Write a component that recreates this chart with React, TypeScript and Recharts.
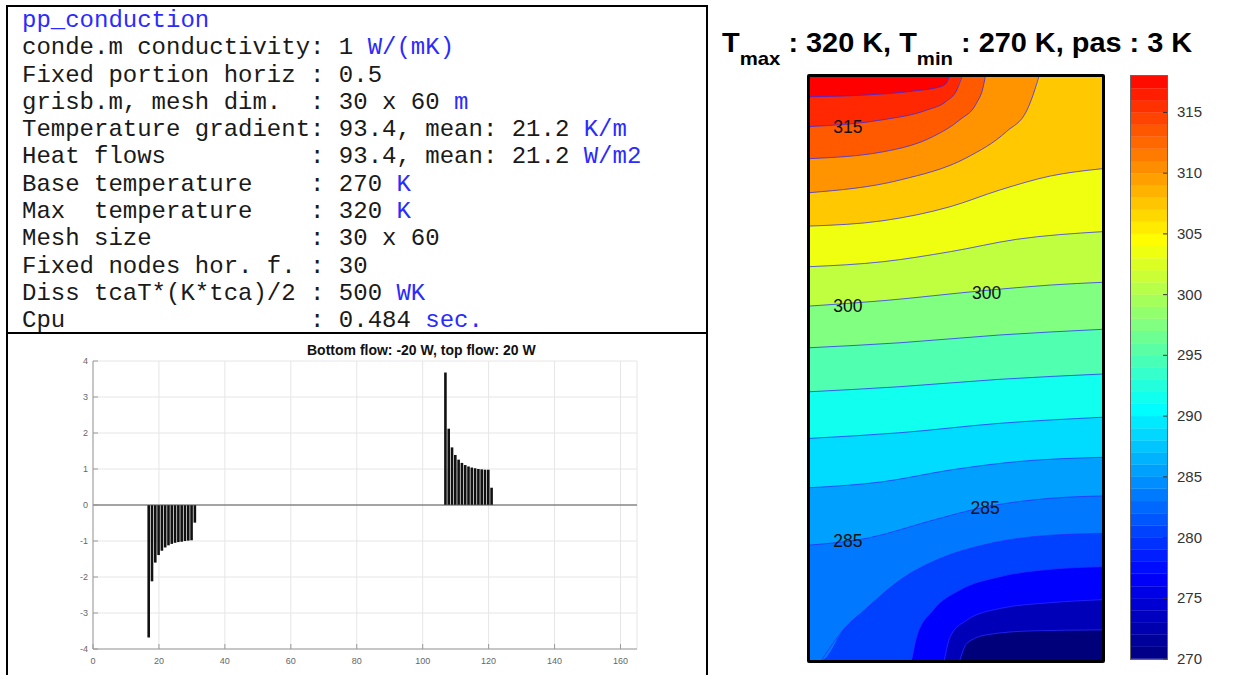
import React from "react";
import {
  BarChart,
  Bar,
  Cell,
  XAxis,
  YAxis,
  CartesianGrid,
  ReferenceLine,
  ComposedChart,
  Area,
  Line,
  Scatter,
} from "recharts";

// ---- text panel ----
const infoLines: [string, string][] = [
  ["", "pp_conduction"],
  ["conde.m conductivity: 1 ", "W/(mK)"],
  ["Fixed portion horiz : 0.5", ""],
  ["grisb.m, mesh dim.  : 30 x 60 ", "m"],
  ["Temperature gradient: 93.4, mean: 21.2 ", "K/m"],
  ["Heat flows          : 93.4, mean: 21.2 ", "W/m2"],
  ["Base temperature    : 270 ", "K"],
  ["Max  temperature    : 320 ", "K"],
  ["Mesh size           : 30 x 60", ""],
  ["Fixed nodes hor. f. : 30", ""],
  ["Diss tcaT*(K*tca)/2 : 500 ", "WK"],
  ["Cpu                 : 0.484 ", "sec."],
];

// ---- boundary flow bars ----
const flowTitle = "Bottom flow: -20 W, top flow: 20 W";
const flowNodes = [
  17, 18, 19, 20, 21, 22, 23, 24, 25, 26, 27, 28, 29, 30, 31,
  107, 108, 109, 110, 111, 112, 113, 114, 115, 116, 117, 118, 119, 120, 121,
];
const flowValues = [
  -3.68, -2.12, -1.6, -1.39, -1.27, -1.18, -1.12, -1.08, -1.05, -1.03, -1.02, -1.0, -0.99, -0.98, -0.49,
  3.68, 2.12, 1.6, 1.39, 1.26, 1.17, 1.11, 1.07, 1.04, 1.02, 1.0, 0.99, 0.98, 0.98, 0.48,
];
const flowXTicks = [0, 20, 40, 60, 80, 100, 120, 140, 160];
const flowYTicks = [-4, -3, -2, -1, 0, 1, 2, 3, 4];

// ---- temperature contours (x: 0..30, y: 0..60 mesh units) ----
const isoLevels = [318, 315, 312, 309, 306, 303, 300, 297, 294, 291, 288, 285, 282, 279, 276, 273];
const iso318 = [[0, 57.97], [5.8, 58.15], [11, 58.6], [13.4, 59], [14, 59.35], [14.3, 60], [30, 60]];
const iso315 = [[0, 54.9], [7.5, 55.6], [12, 56.6], [14, 57.5], [15.1, 58.7], [15.6, 60], [30, 60]];
const iso312 = [[0, 51.6], [7.5, 52.3], [12.7, 53.9], [15.4, 55.6], [17.1, 57.3], [17.8, 59], [18, 60], [30, 60]];
const iso309 = [[0, 48.1], [9.25, 49.4], [16.1, 51.7], [20.2, 54.4], [22.3, 56.6], [23.1, 58.7], [23.5, 60], [30, 60]];
const iso306 = [[0, 44.66], [7.5, 45.21], [14.4, 46.65], [19.5, 48.37], [24.7, 49.81], [30, 50.56]];
const iso303 = [[0, 40.48], [7.5, 40.99], [14.4, 42.02], [21.2, 43.29], [30, 44.08]];
const iso300 = [[0, 36.43], [7.5, 36.98], [17.8, 38.01], [24.7, 38.59], [30, 38.87]];
const iso297 = [[0, 32.14], [9.25, 32.65], [19.5, 33.45], [30, 34.03]];
const iso294 = [[0, 27.61], [9.25, 28.13], [19.5, 28.89], [30, 29.43]];
const iso291 = [[0, 22.81], [9.25, 23.39], [19.5, 24.36], [30, 24.98]];
const iso288 = [[0, 17.73], [7.5, 18.35], [14.4, 19.55], [21.2, 20.41], [30, 20.86]];
const iso285 = [[0, 11.83], [5.8, 12.52], [12.7, 14.41], [17.8, 15.71], [24.7, 16.64], [30, 16.88]];
const iso282 = [[0, 0], [1.2, 0], [3.4, 3.09], [5.8, 5.32], [9.25, 8.23], [13.4, 10.46], [17.8, 11.83], [22.9, 12.69], [30, 13.04]];
const iso279 = [[0, 0], [10.4, 0], [10.96, 2.4], [12.67, 5.15], [15.4, 7.2], [19.5, 8.57], [24.7, 9.33], [30, 9.6]];
const iso276 = [[0, 0], [13.8, 0], [14.4, 2.4], [16.1, 4.1], [19.5, 5.3], [24.7, 5.9], [30, 6.2]];
const iso273 = [[0, 0], [15.4, 0], [16.1, 1.7], [18.2, 2.6], [22.9, 3.0], [30, 3.1]];
const isoLines = [
  iso318, iso315, iso312, iso309, iso306, iso303, iso300, iso297,
  iso294, iso291, iso288, iso285, iso282, iso279, iso276, iso273,
];
const isoLabels = [
  { x: 3.9, y: 54.9, text: "315" },
  { x: 3.9, y: 36.4, text: "300" },
  { x: 18.15, y: 37.8, text: "300" },
  { x: 3.9, y: 12.2, text: "285" },
  { x: 18.0, y: 15.6, text: "285" },
];

// fill of the band lying under each level (same order as isoLevels), plus the top band
const topBandColor = "#ff0000";
const bandColors = [
  "#ff2800", "#ff5a00", "#ff9400", "#ffc800", "#f0ff10", "#c0ff40", "#80ff80", "#50ffb0",
  "#10ffef", "#00dcff", "#00a0ff", "#0078ff", "#0040ff", "#0000ff", "#0000b8", "#00007a",
];

// ---- colorbar ----
const cbTicks = [270, 275, 280, 285, 290, 295, 300, 305, 310, 315];
const cbSteps = [
  270, 271, 272, 273, 274, 275, 276, 277, 278, 279, 280, 281, 282, 283, 284, 285,
  286, 287, 288, 289, 290, 291, 292, 293, 294, 295, 296, 297, 298, 299, 300, 301,
  302, 303, 304, 305, 306, 307, 308, 309, 310, 311, 312, 313, 314, 315, 316, 317,
];

// jet colormap spread over 270..325 K
function jet(T: number) {
  const t = (T - 270) / 55;
  const c = (v: number) => Math.round(255 * Math.min(1, Math.max(0, v)));
  const r = c(1.5 - Math.abs(4 * t - 3));
  const g = c(1.5 - Math.abs(4 * t - 2));
  const b = c(1.5 - Math.abs(4 * t - 1));
  return `rgb(${r},${g},${b})`;
}

const SANS = "'Liberation Sans', Arial, sans-serif";

function BottomTick(p: any) {
  return (
    <g>
      <line x1={p.x} x2={p.x} y1={p.y} y2={p.y - 5} stroke="#9a9a9a" />
      <text x={p.x} y={p.y + 15} textAnchor="middle" fontSize={9} fill="#666" fontFamily={SANS}>
        {p.payload.value}
      </text>
    </g>
  );
}

function TopTick(p: any) {
  return <line x1={p.x} x2={p.x} y1={p.y} y2={p.y + 5} stroke="#9a9a9a" />;
}

function LeftTick(p: any) {
  return (
    <g>
      <line x1={p.x} x2={p.x + 5} y1={p.y} y2={p.y} stroke="#9a9a9a" />
      <text x={p.x - 5} y={p.y + 3} textAnchor="end" fontSize={9} fill="#666" fontFamily={SANS}>
        {p.payload.value}
      </text>
    </g>
  );
}

function ColorbarTick(p: any) {
  return (
    <g>
      <line x1={p.x - 4} x2={p.x} y1={p.y} y2={p.y} stroke="#333" />
      <text x={p.x + 10} y={p.y + 5} fontSize={15} fill="#333" fontFamily={SANS}>
        {p.payload.value}
      </text>
    </g>
  );
}

function FlowChart() {
  const data = flowNodes.map((node, i) => ({ node, flow: flowValues[i] }));
  return (
    <BarChart
      width={610}
      height={335}
      data={data}
      margin={{ top: 21, right: 13, bottom: 6, left: 23 }}
      barSize={2.6}
    >
      <CartesianGrid stroke="#e6e6e6" />
      <XAxis
        dataKey="node"
        type="number"
        domain={[0, 165]}
        ticks={flowXTicks}
        interval={0}
        allowDataOverflow
        height={20}
        axisLine={{ stroke: "#9a9a9a" }}
        tickLine={false}
        tickSize={0}
        tickMargin={0}
        tick={(p: any) => <BottomTick {...p} />}
      />
      <XAxis
        xAxisId="top"
        orientation="top"
        dataKey="node"
        type="number"
        domain={[0, 165]}
        ticks={flowXTicks}
        interval={0}
        allowDataOverflow
        height={0}
        axisLine={{ stroke: "#9a9a9a" }}
        tickLine={false}
        tickSize={0}
        tickMargin={0}
        tick={(p: any) => <TopTick {...p} />}
      />
      <YAxis
        type="number"
        domain={[-4, 4]}
        ticks={flowYTicks}
        interval={0}
        allowDataOverflow
        width={30}
        axisLine={{ stroke: "#9a9a9a" }}
        tickLine={false}
        tickSize={0}
        tickMargin={0}
        tick={(p: any) => <LeftTick {...p} />}
      />
      <ReferenceLine y={0} stroke="#555" />
      <Bar dataKey="flow" fill="#111" isAnimationActive={false} />
    </BarChart>
  );
}

function ContourChart() {
  const lines = isoLines.map((pts) => pts.map(([x, y]) => ({ x, y })));
  return (
    <ComposedChart width={292} height={583} margin={{ top: 0, right: 0, bottom: 0, left: 0 }}>
      <XAxis dataKey="x" type="number" domain={[0, 30]} allowDataOverflow hide />
      <YAxis dataKey="y" type="number" domain={[0, 60]} allowDataOverflow hide />
      {lines.map((pts, i) => (
        <Area
          key={`a${isoLevels[i]}`}
          data={pts}
          dataKey="y"
          type="monotone"
          fill={bandColors[i]}
          fillOpacity={1}
          stroke="none"
          isAnimationActive={false}
        />
      ))}
      {lines.map((pts, i) => (
        <Line
          key={`l${isoLevels[i]}`}
          data={pts.filter(
            (p, j, a) =>
              !(p.y >= 60 && j > 0 && a[j - 1].y >= 60) &&
              !(p.y <= 0 && j < a.length - 1 && a[j + 1].y <= 0)
          )}
          dataKey="y"
          type="monotone"
          stroke="#2b2bff"
          strokeOpacity={0.75}
          strokeWidth={1}
          dot={false}
          activeDot={false}
          isAnimationActive={false}
        />
      ))}
      <Scatter
        data={isoLabels}
        dataKey="y"
        isAnimationActive={false}
        shape={(p: any) => (
          <text
            x={p.cx}
            y={p.cy + 6}
            textAnchor="middle"
            fontSize={17.5}
            fill="#111"
            fontFamily={SANS}
          >
            {p.payload.text}
          </text>
        )}
      />
    </ComposedChart>
  );
}

function ColorbarStrip() {
  const data = cbSteps.map((t) => ({ t, w: 1 }));
  return (
    <BarChart
      layout="vertical"
      width={36}
      height={583}
      data={data}
      margin={{ top: 0, right: 0, bottom: 0, left: 0 }}
      barCategoryGap={0}
    >
      <XAxis type="number" domain={[0, 1]} hide />
      <YAxis type="category" dataKey="t" reversed hide />
      <Bar dataKey="w" isAnimationActive={false}>
        {data.map((d) => (
          <Cell key={d.t} fill={jet(d.t + 0.5)} stroke={jet(d.t + 0.5)} strokeWidth={0.5} />
        ))}
      </Bar>
    </BarChart>
  );
}

function ColorbarAxis() {
  return (
    <ComposedChart width={96} height={600} margin={{ top: 0, right: 0, bottom: 17, left: 0 }}>
      <XAxis type="number" domain={[0, 1]} hide />
      <YAxis
        orientation="right"
        type="number"
        domain={[270, 318]}
        ticks={cbTicks}
        interval={0}
        allowDataOverflow
        width={60}
        axisLine={false}
        tickLine={false}
        tickSize={0}
        tickMargin={0}
        tick={(p: any) => <ColorbarTick {...p} />}
      />
    </ComposedChart>
  );
}

export default function App() {
  const rule = { position: "absolute" as const, background: "#000" };
  return (
    <div
      style={{
        position: "absolute",
        left: 0,
        top: 0,
        width: 1233,
        height: 675,
        background: "#fff",
        overflow: "hidden",
        fontFamily: SANS,
      }}
    >
      {/* table rules */}
      <div style={{ ...rule, left: 6, top: 5, width: 702, height: 2 }} />
      <div style={{ ...rule, left: 6, top: 5, width: 2, height: 670 }} />
      <div style={{ ...rule, left: 706, top: 5, width: 2, height: 670 }} />
      <div style={{ ...rule, left: 6, top: 332, width: 702, height: 2 }} />

      {/* text panel */}
      <div
        style={{
          position: "absolute",
          left: 22,
          top: 7,
          fontFamily: "'Liberation Mono', 'Courier New', monospace",
          fontSize: 24,
          lineHeight: "27.3px",
          color: "#1a1a1a",
          whiteSpace: "pre",
        }}
      >
        {infoLines.map(([plain, unit], i) => (
          <div key={i}>
            {plain}
            <span style={{ color: "#2b2bff" }}>{unit}</span>
          </div>
        ))}
      </div>

      {/* flow chart */}
      <div
        style={{
          position: "absolute",
          left: 307,
          top: 342,
          fontSize: 14,
          fontWeight: 700,
          color: "#111",
          whiteSpace: "pre",
        }}
      >
        {flowTitle}
      </div>
      <div style={{ position: "absolute", left: 40, top: 340 }}>
        <FlowChart />
      </div>

      {/* contour title */}
      <div
        style={{
          position: "absolute",
          left: 722,
          top: 28,
          fontSize: 27,
          fontWeight: 700,
          lineHeight: "31px",
          color: "#000",
          whiteSpace: "pre",
          transform: "scaleX(1.07)",
          transformOrigin: "left",
        }}
      >
        T<span style={{ fontSize: 19, position: "relative", top: 13 }}>max</span> : 320 K, T
        <span style={{ fontSize: 19, position: "relative", top: 13 }}>min</span> : 270 K, pas : 3 K
      </div>

      {/* contour map */}
      <div
        style={{
          position: "absolute",
          left: 807,
          top: 74,
          width: 292,
          height: 583,
          border: "3px solid #000",
          borderRadius: 2,
          background: topBandColor,
        }}
      >
        <ContourChart />
      </div>

      {/* colorbar */}
      <div style={{ position: "absolute", left: 1131, top: 76 }}>
        <ColorbarStrip />
      </div>
      <div
        style={{
          position: "absolute",
          left: 1130,
          top: 75,
          width: 36,
          height: 583,
          border: "1px solid #666",
          pointerEvents: "none",
        }}
      />
      <div style={{ position: "absolute", left: 1131, top: 76 }}>
        <ColorbarAxis />
      </div>
    </div>
  );
}
